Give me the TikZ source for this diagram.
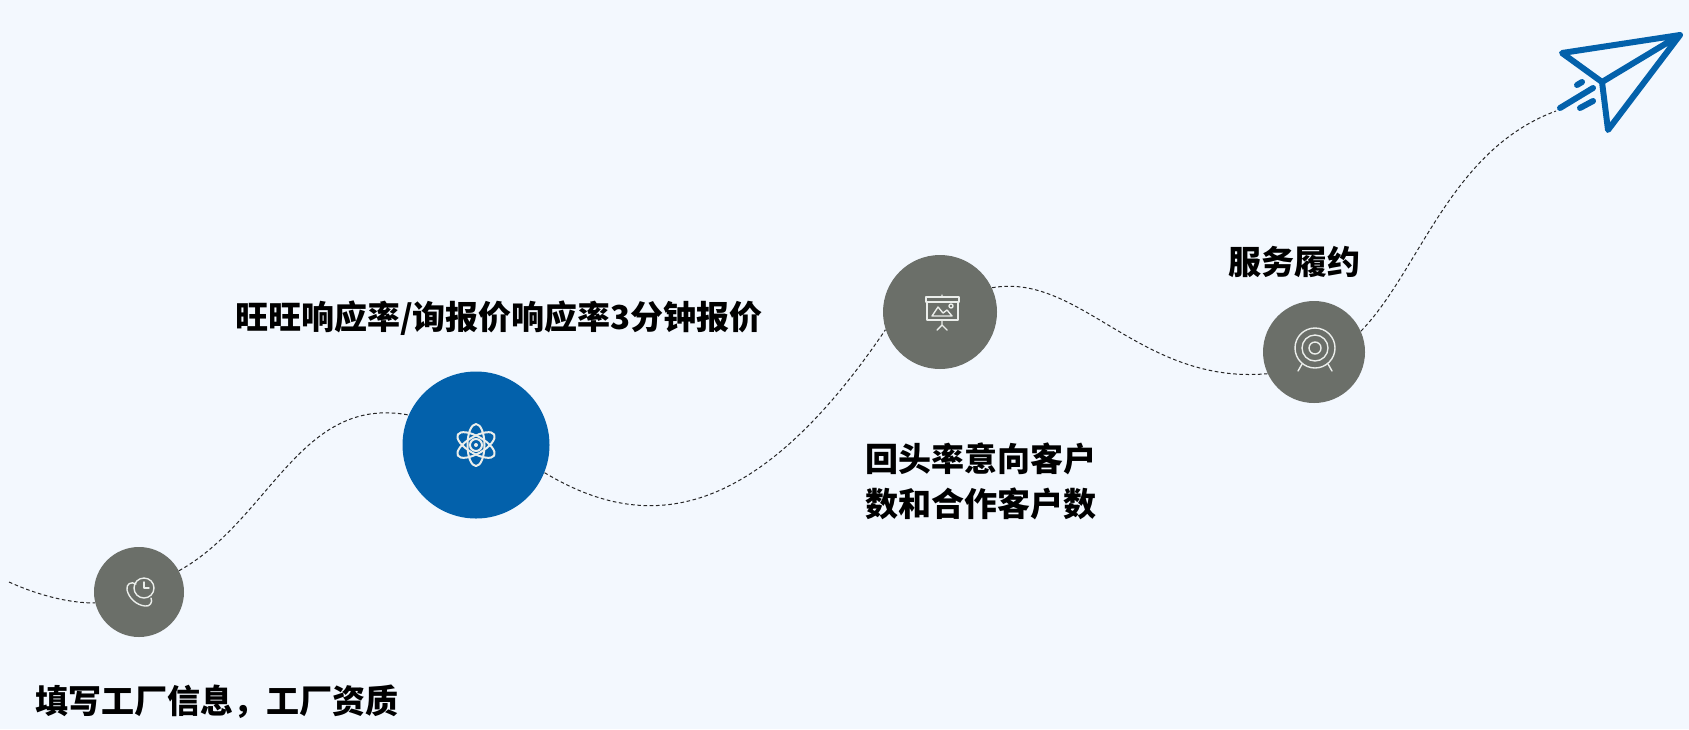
\documentclass[tikz,border=0pt]{standalone}
\usepackage{fontspec}
\setmainfont{Noto Sans CJK SC}
\definecolor{pagebg}{RGB}{243,248,254}
\definecolor{stepgrey}{RGB}{107,111,105}
\definecolor{stepblue}{RGB}{3,97,171}
\definecolor{iconline}{RGB}{235,238,235}
\tikzset{
  stepnode/.style={circle,fill=stepgrey,inner sep=0pt,minimum size=#1},
  steplabel/.style={font=\fontsize{16.5pt}{22.5pt}\selectfont\bfseries,text=black,align=center,inner sep=0pt},
  trail/.style={black!85,line width=0.5pt,dash pattern=on 1.8pt off 1.3pt},
  iconstroke/.style={iconline,line width=0.7pt,line cap=round,line join=round},
  planestroke/.style={stepblue,line width=3pt,line cap=round,line join=round}
}
\newcommand{\phoneclock}[2]{%
  \begin{scope}[shift={(#1,#2)}]
    \draw[iconstroke] (5,-4) circle[radius=10];
    \draw[iconstroke] (5,-10)--(5,-4)--(10,-4);
    \draw[iconstroke] (-3,-8) .. controls (-8,-11) and (-13,-8) .. (-12,-2)
      .. controls (-10,6) and (-3,13) .. (6,14) .. controls (11,15) and (14,10) .. (12,6);
  \end{scope}%
}
\newcommand{\atomicon}[2]{%
  \begin{scope}[shift={(#1,#2)}]
    \foreach \a in {90,30,-30} {
      \draw[iconstroke,line width=1pt,rotate=\a] (0,0) ellipse[x radius=21,y radius=8.5];
    }
    \draw[iconstroke,line width=1pt] (0,0) circle[radius=6];
    \fill[iconline] (0,0) circle[radius=2];
  \end{scope}%
}
\newcommand{\boardicon}[2]{%
  \begin{scope}[shift={(#1,#2)}]
    \draw[iconstroke] (-16,-16) rectangle (17,-11);
    \draw[iconstroke] (-15,-11)--(-15,7)--(16,7)--(16,-11);
    \draw[iconstroke] (0,-18)--(0,-16) (0,7)--(0,12) (-5,17)--(0,12)--(5,17);
    \draw[iconstroke] (-10,3)--(-4,-6)--(1,0)--(5,-3)--(10,3)--cycle;
    \draw[iconstroke] (9,-7) circle[radius=2];
  \end{scope}%
}
\newcommand{\targeticon}[2]{%
  \begin{scope}[shift={(#1,#2)}]
    \draw[iconstroke] (0,0) circle[radius=20];
    \draw[iconstroke] (0,0) circle[radius=13];
    \draw[iconstroke] (0,0) circle[radius=6];
    \draw[iconstroke] (-13,16)--(-17,23) (13,16)--(17,23);
  \end{scope}%
}
\begin{document}
\begin{tikzpicture}[x=0.5pt,y=-0.5pt]
  \fill[pagebg] (0,0) rectangle (1689,729);
  \useasboundingbox (0,0) rectangle (1689,729);

  % steps along the trail
  \node[stepnode=45pt] (fill) at (139,592) {};
  \node[stepnode=73.5pt,fill=stepblue] (reply) at (476,445) {};
  \node[stepnode=57pt] (repeat) at (940,312) {};
  \node[stepnode=51pt] (serve) at (1314,352) {};
  \coordinate (trailstart) at (9,582);
  \coordinate (trailend) at (1556,111);

  \draw[trail] (trailstart) .. controls (40,596) and (70,603) .. (fill.194);
  \draw[trail] (fill.28) .. controls (270,520) and (300,395) .. (reply.156);
  \draw[trail] (reply.-22) .. controls (640,530) and (750,530) .. (repeat.198);
  \draw[trail] (repeat.25) .. controls (1080,272) and (1140,385) .. (serve.205);
  \draw[trail] (serve.24) .. controls (1420,270) and (1450,150) .. (trailend);

  \phoneclock{139}{592}
  \atomicon{476}{445}
  \boardicon{942}{313}
  \targeticon{1315}{348}

  % paper plane
  \draw[planestroke] (1680,35)--(1562,53)--(1602,82)--(1680,35)--(1608,130)--(1602,82);
  \draw[planestroke] (1560,108)--(1593,88);
  \draw[planestroke] (1580,108)--(1593,101);
  \draw[planestroke] (1577,85)--(1582,82);

  \node[steplabel] (filltext) at (217,702) {填写工厂信息，工厂资质};
  \node[steplabel] (replytext) at (499,318) {旺旺响应率/询报价响应率3分钟报价};
  \node[steplabel] (repeattext) at (981,481) {回头率意向客户\\数和合作客户数};
  \node[steplabel] (servetext) at (1294,262) {服务履约};
\end{tikzpicture}
\end{document}
